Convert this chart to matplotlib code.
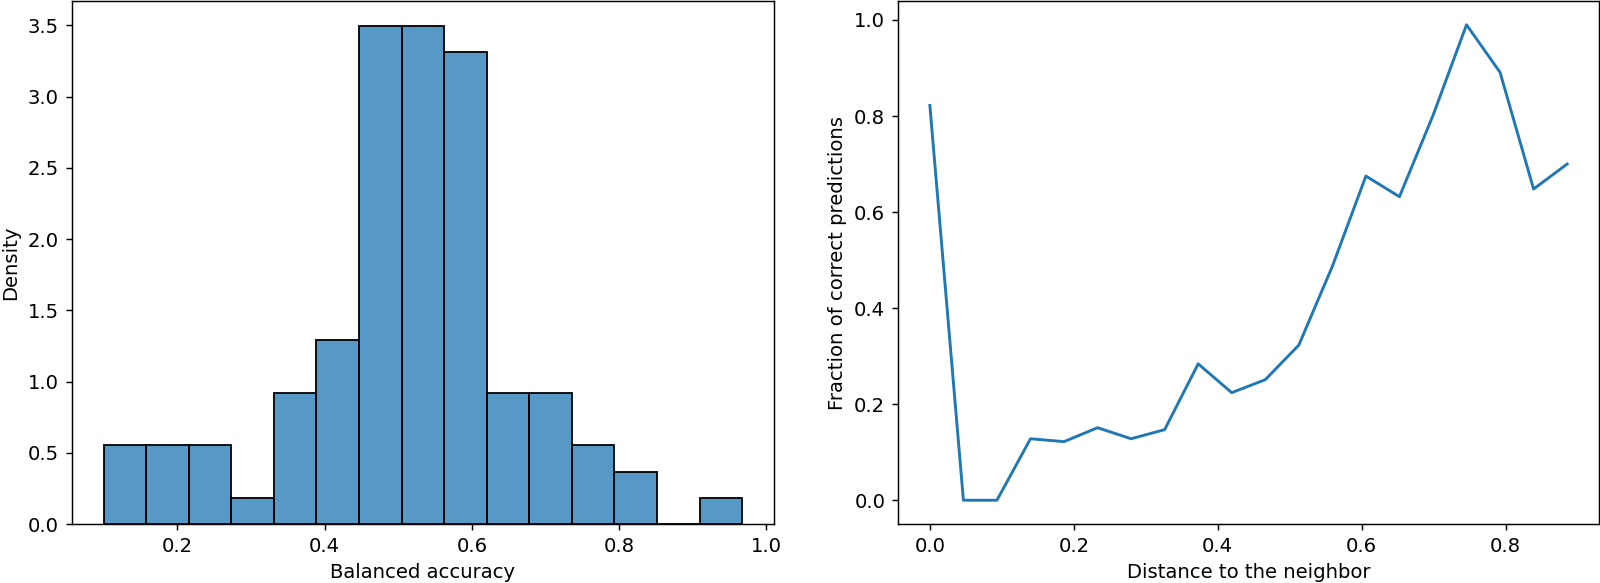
import numpy as np
import pandas as pd
import matplotlib
matplotlib.use("Agg")
import matplotlib.pyplot as plt
import seaborn as sns

# --- 左图：balanced accuracy 直方图 (density)
bin_lo, bin_hi, n_bins = 0.1, 0.967, 15
bin_counts = [3, 3, 3, 1, 5, 7, 19, 19, 18, 5, 5, 3, 2, 0, 1]

# --- 右图：距离 vs 正确率
distance = [0.0, 0.0466, 0.0932, 0.1398, 0.1864, 0.233, 0.2796, 0.3262, 0.3728, 0.4194,
            0.466, 0.5126, 0.5592, 0.6058, 0.6524, 0.699, 0.7456, 0.7922, 0.8388, 0.8854]
frac_correct = [0.822, 0.0, 0.0, 0.128, 0.122, 0.151, 0.128, 0.147, 0.284, 0.224,
                0.251, 0.323, 0.487, 0.675, 0.632, 0.801, 0.990, 0.891, 0.648, 0.700]

plt.rcParams['font.size'] = 10.9
plt.rcParams['lines.linewidth'] = 1.6

dpi = 130
fig = plt.figure(figsize=(1600 / dpi, 583 / dpi), dpi=dpi)
ax1 = fig.add_axes([71.7 / 1600, 1 - 524 / 583, (774 - 71.7) / 1600, 523 / 583])
ax2 = fig.add_axes([898 / 1600, 1 - 524 / 583, (1599 - 898) / 1600, 523 / 583])

# 每个 bin 的中心点 + 权重 = 计数
edges = np.linspace(bin_lo, bin_hi, n_bins + 1)
df = pd.DataFrame({"acc": (edges[:-1] + edges[1:]) / 2, "n": bin_counts})
sns.histplot(data=df, x="acc", weights="n", bins=n_bins, binrange=(bin_lo, bin_hi),
             stat="density", ax=ax1)
ax1.set_xlabel("Balanced accuracy")
ax1.set_ylabel("Density")

ax2.plot(distance, frac_correct)
ax2.set_xlabel("Distance to the neighbor")
ax2.set_ylabel("Fraction of correct predictions")

fig.savefig("out.png", dpi=dpi)
